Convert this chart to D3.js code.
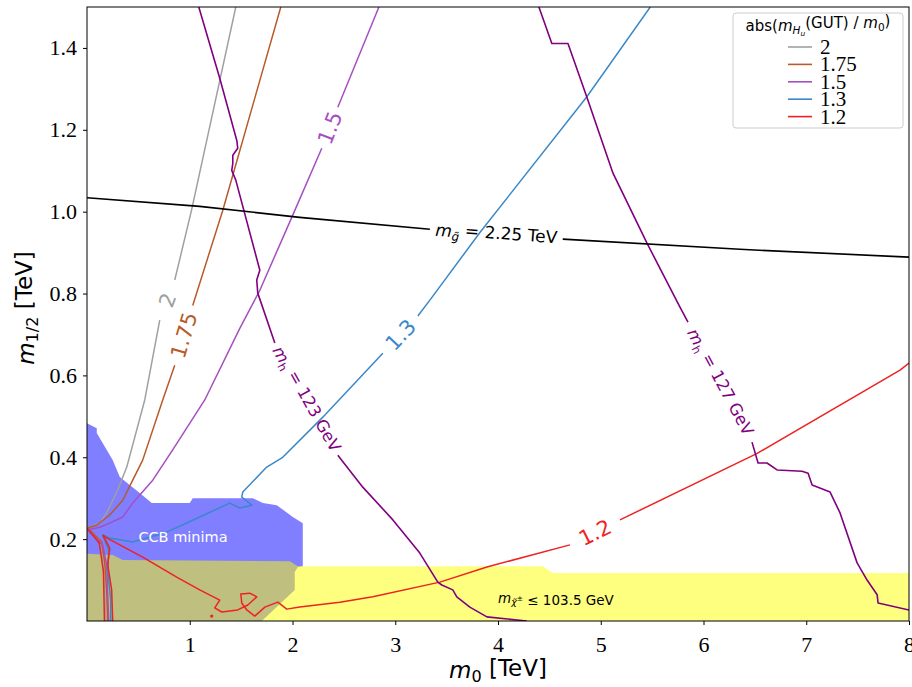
<!DOCTYPE html>
<html>
<head>
<meta charset="utf-8">
<script src="https://cdn.jsdelivr.net/npm/d3@7"></script>
<style>
body { margin: 0; background: #fff; }
</style>
</head>
<body>
<div id="chart"></div>
<script>
// ---- data (TeV) ----
var xTicks = [1, 2, 3, 4, 5, 6, 7, 8];
var yTicks = [0.2, 0.4, 0.6, 0.8, 1.0, 1.2, 1.4];

// abs(mHu(GUT)/m0) contours: upper branch before label, after label, low branch
var gray2A = [[1.448, 1.50], [1.017, 1.003], [0.854, 0.833]];
var gray2B = [[0.708, 0.735], [0.562, 0.540], [0.387, 0.376], [0.299, 0.320], [0.192, 0.264], [0.124, 0.239], [0.026, 0.229], [0.0, 0.228]];
var gray2Low = [[0.007, 0.225], [0.124, 0.198], [0.153, 0.149], [0.172, 0.076], [0.182, 0.0]];

var brown175A = [[1.886, 1.50], [1.321, 1.003], [1.029, 0.771]];
var brown175B = [[0.854, 0.625], [0.737, 0.540], [0.542, 0.393], [0.445, 0.344], [0.348, 0.295], [0.221, 0.259], [0.094, 0.234], [0.0, 0.227]];
var brown175Low = [[0.007, 0.227], [0.143, 0.193], [0.172, 0.144], [0.192, 0.071], [0.202, 0.0]];

var purple15A = [[2.841, 1.50], [2.441, 1.255]];
var purple15B = [[2.285, 1.155], [1.993, 0.986], [1.682, 0.808], [1.487, 0.715], [1.146, 0.540], [0.834, 0.418], [0.640, 0.344], [0.445, 0.288], [0.348, 0.254], [0.221, 0.239], [0.124, 0.229], [0.0, 0.222]];
var purple15Low = [[0.007, 0.222], [0.153, 0.186], [0.192, 0.137], [0.202, 0.063], [0.211, 0.0]];

var blue13A = [[5.482, 1.50], [4.863, 1.280], [3.824, 0.949], [3.337, 0.784], [3.220, 0.745]];
var blue13B = [[2.879, 0.654], [2.295, 0.498], [1.905, 0.400], [1.749, 0.376], [1.516, 0.315], [1.506, 0.303], [1.604, 0.283], [1.487, 0.276], [1.389, 0.288], [1.097, 0.254], [0.776, 0.217], [0.445, 0.193], [0.221, 0.203], [0.153, 0.210], [0.172, 0.198]];
var blue13Low = [[0.172, 0.198], [0.211, 0.173], [0.202, 0.125], [0.231, 0.051], [0.231, 0.0]];

var red12A = [[8.0, 0.630], [7.913, 0.613], [6.518, 0.409], [5.187, 0.247]];
var red12B = [[4.700, 0.186], [3.892, 0.132], [3.434, 0.095], [2.782, 0.059], [2.461, 0.046], [2.071, 0.034], [1.944, 0.029], [1.857, 0.046], [1.731, 0.034], [1.633, 0.012], [1.555, 0.027], [1.506, 0.044], [1.497, 0.066], [1.584, 0.068], [1.652, 0.059], [1.565, 0.039], [1.467, 0.027], [1.312, 0.022], [1.243, 0.032], [1.292, 0.051], [1.097, 0.076], [0.873, 0.107], [0.542, 0.156], [0.192, 0.203], [0.153, 0.210]];
var red12Low = [[0.153, 0.210], [0.221, 0.178], [0.202, 0.137], [0.240, 0.076], [0.250, 0.0]];
var red12Left = [[0.007, 0.225], [0.120, 0.190], [0.160, 0.120], [0.170, 0.0]];
var red12Dot = [1.214, 0.012];

// Higgs mass contours
var mh123A = [[1.088, 1.50], [1.292, 1.326], [1.458, 1.174], [1.467, 1.155], [1.419, 1.138], [1.419, 1.118], [1.409, 1.101], [1.448, 1.077], [1.682, 0.857], [1.652, 0.833], [1.662, 0.801], [1.828, 0.679]];
var mh123B = [[2.441, 0.405], [2.684, 0.327], [2.977, 0.247], [3.239, 0.166], [3.414, 0.095], [3.453, 0.088], [3.560, 0.076], [3.599, 0.059], [3.726, 0.034], [3.892, 0.010], [4.28, 0.0]];
var mh127A = [[4.398, 1.50], [4.524, 1.411], [4.681, 1.411], [4.866, 1.279], [5.119, 1.094], [5.450, 0.923], [5.771, 0.767], [5.849, 0.730]];
var mh127B = [[6.472, 0.437], [6.531, 0.386], [6.618, 0.386], [6.716, 0.369], [6.959, 0.366], [7.018, 0.361], [7.057, 0.332], [7.232, 0.315], [7.329, 0.264], [7.495, 0.142], [7.592, 0.100], [7.690, 0.064], [7.699, 0.044], [8.0, 0.027]];

// gluino mass contour
var gluinoA = [[0.0, 1.034], [1.097, 1.013], [2.07, 0.986], [3.337, 0.957]];
var gluinoB = [[4.63, 0.933], [6.355, 0.908], [8.0, 0.889]];

// excluded regions
var ccbRegion = [[0, 0], [0, 0.483], [0.095, 0.471], [0.095, 0.459], [0.251, 0.393], [0.319, 0.352], [0.513, 0.313], [0.630, 0.288], [1.0, 0.288], [1.029, 0.300], [1.613, 0.300], [1.711, 0.288], [1.847, 0.283], [2.003, 0.254], [2.100, 0.239], [2.100, 0.134], [2.052, 0.132], [2.022, 0.120], [2.022, 0.076], [1.701, 0.0]];
var charginoRegion = [[0, 0], [0, 0.164], [0.251, 0.161], [0.348, 0.149], [1.974, 0.146], [2.052, 0.134], [4.437, 0.134], [4.534, 0.117], [8.0, 0.117], [8.0, 0]];

var legendLevels = ["2", "1.75", "1.5", "1.3", "1.2"];
var legendColors = ["#a0a0a0", "#b85a2a", "#a64fc2", "#3a88c8", "#ee2222"];

// ---- layout ----
var svgWidth = 912;
var svgHeight = 687;
var margin = { top: 7, right: 3, bottom: 66, left: 87 };
var width = svgWidth - margin.left - margin.right;
var height = svgHeight - margin.top - margin.bottom;

var svg = d3.select("#chart")
    .append("svg")
    .attr("width", svgWidth)
    .attr("height", svgHeight)
    .style("display", "block");

var chartGroup = svg.append("g")
    .attr("transform", `translate(${margin.left}, ${margin.top})`);

var xScale = d3.scaleLinear().domain([0, 8]).range([0, width]);
var yScale = d3.scaleLinear().domain([0, 1.5]).range([height, 0]);

svg.append("defs").append("clipPath")
    .attr("id", "plotClip")
    .append("rect")
    .attr("width", width)
    .attr("height", height);

var plot = chartGroup.append("g").attr("clip-path", "url(#plotClip)");

var line = d3.line()
    .x(d => xScale(d[0]))
    .y(d => yScale(d[1]));

// regions
plot.append("path")
    .attr("d", line(ccbRegion) + "Z")
    .attr("fill", "rgb(0,0,255)")
    .attr("fill-opacity", 0.5);
plot.append("path")
    .attr("d", line(charginoRegion) + "Z")
    .attr("fill", "rgb(255,255,0)")
    .attr("fill-opacity", 0.5);

// helper: rich text with italic / sub parts
function richText(sel, parts) {
    parts.forEach(function (p) {
        var ts = sel.append("tspan").text(p.t);
        if (p.i) ts.attr("font-style", "italic");
        if (p.s) ts.attr("font-size", p.s);
        if (p.dy) ts.attr("dy", p.dy);
    });
    return sel;
}

// contour lines with labels in gaps
var contours = [
    { color: legendColors[0], parts: [gray2A, gray2B, gray2Low], label: [{ t: "2" }], size: 21, w: 1.5 },
    { color: legendColors[1], parts: [brown175A, brown175B, brown175Low], label: [{ t: "1.75" }], size: 21, w: 1.5 },
    { color: legendColors[2], parts: [purple15A, purple15B, purple15Low], label: [{ t: "1.5" }], size: 21, w: 1.5 },
    { color: legendColors[3], parts: [blue13A, blue13B, blue13Low], label: [{ t: "1.3" }], size: 21, w: 1.5 },
    { color: legendColors[4], parts: [red12A, red12B, red12Low, red12Left], label: [{ t: "1.2" }], size: 21, w: 1.5 },
    { color: "#800080", parts: [mh123A, mh123B], size: 16.5, w: 1.6,
      label: [{ t: "m", i: true }, { t: "h", s: "70%", dy: "0.3em" }, { t: " = 123 GeV", dy: "-0.3em" }] },
    { color: "#800080", parts: [mh127A, mh127B], size: 16.5, w: 1.6,
      label: [{ t: "m", i: true }, { t: "h", s: "70%", dy: "0.3em" }, { t: " = 127 GeV", dy: "-0.3em" }] },
    { color: "#000000", parts: [gluinoA, gluinoB], size: 17, w: 1.6,
      label: [{ t: "m", i: true }, { t: "g\u0303", i: true, s: "70%", dy: "0.3em" }, { t: " = 2.25 TeV", dy: "-0.3em" }] }
];

contours.forEach(function (c) {
    c.parts.forEach(function (p) {
        plot.append("path")
            .attr("d", line(p))
            .attr("fill", "none")
            .attr("stroke", c.color)
            .attr("stroke-width", c.w)
            .attr("stroke-linejoin", "round");
    });
    var a = c.parts[0][c.parts[0].length - 1];
    var b = c.parts[1][0];
    var ax = xScale(a[0]), ay = yScale(a[1]), bx = xScale(b[0]), by = yScale(b[1]);
    if (bx < ax) { var t = ax; ax = bx; bx = t; t = ay; ay = by; by = t; }
    var ang = Math.atan2(by - ay, bx - ax) * 180 / Math.PI;
    var lab = chartGroup.append("text")
        .attr("transform", `translate(${(ax + bx) / 2}, ${(ay + by) / 2}) rotate(${ang})`)
        .attr("text-anchor", "middle")
        .attr("dy", "0.36em")
        .attr("fill", c.color)
        .attr("font-family", "DejaVu Sans")
        .attr("font-size", c.size);
    richText(lab, c.label);
});

plot.append("circle")
    .attr("cx", xScale(red12Dot[0]))
    .attr("cy", yScale(red12Dot[1]))
    .attr("r", 1.6)
    .attr("fill", legendColors[4]);

// region labels
chartGroup.append("text")
    .attr("x", xScale(0.5))
    .attr("y", yScale(0.193))
    .attr("fill", "#ffffff")
    .attr("font-family", "DejaVu Sans")
    .attr("font-size", 14.5)
    .text("CCB minima");

richText(chartGroup.append("text")
    .attr("x", xScale(4.0))
    .attr("y", yScale(0.045))
    .attr("fill", "#000")
    .attr("font-family", "DejaVu Sans")
    .attr("font-size", 13.5),
    [{ t: "m", i: true }, { t: "\u03c7\u0303", i: true, s: "70%", dy: "0.3em" }, { t: "\u00b1", s: "55%", dy: "-0.6em" },
     { t: " \u2264 103.5 GeV", dy: "0.3em" }]);

// axes
var xAxis = chartGroup.append("g")
    .attr("transform", `translate(0, ${height})`)
    .call(d3.axisBottom(xScale).tickValues(xTicks).tickFormat(d3.format("d")).tickSize(4).tickPadding(11));
var yAxis = chartGroup.append("g")
    .call(d3.axisLeft(yScale).tickValues(yTicks).tickFormat(d3.format(".1f")).tickSize(4).tickPadding(6));

[xAxis, yAxis].forEach(function (ax) {
    ax.select(".domain").remove();
    ax.selectAll("text")
        .attr("font-family", "Liberation Serif")
        .attr("font-size", 22)
        .attr("fill", "#000");
    ax.selectAll("line").attr("stroke", "#000");
});

chartGroup.append("rect")
    .attr("width", width)
    .attr("height", height)
    .attr("fill", "none")
    .attr("stroke", "#000")
    .attr("stroke-width", 1);

// axis titles
richText(svg.append("text")
    .attr("x", margin.left + width / 2)
    .attr("y", 678)
    .attr("text-anchor", "middle")
    .attr("font-family", "DejaVu Sans")
    .attr("font-size", 23),
    [{ t: "m", i: true }, { t: "0", s: "70%", dy: "0.25em" }, { t: " [TeV]", dy: "-0.25em" }]);

richText(svg.append("text")
    .attr("transform", "translate(34, 308) rotate(-90)")
    .attr("text-anchor", "middle")
    .attr("font-family", "DejaVu Sans")
    .attr("font-size", 23),
    [{ t: "m", i: true }, { t: "1/2", s: "70%", dy: "0.25em" }, { t: " [TeV]", dy: "-0.25em" }]);

// legend
var legend = svg.append("g");
legend.append("rect")
    .attr("x", 733).attr("y", 13)
    .attr("width", 170).attr("height", 115)
    .attr("rx", 3)
    .attr("fill", "#fff")
    .attr("fill-opacity", 0.8)
    .attr("stroke", "#cccccc");

richText(legend.append("text")
    .attr("x", 818).attr("y", 31)
    .attr("text-anchor", "middle")
    .attr("font-family", "DejaVu Sans")
    .attr("font-size", 15),
    [{ t: "abs(" }, { t: "m", i: true }, { t: "H", i: true, s: "70%", dy: "0.3em" }, { t: "u", i: true, s: "50%", dy: "0.25em" },
     { t: "(GUT) / ", dy: "-0.55em" }, { t: "m", i: true }, { t: "0", s: "70%", dy: "0.3em" }, { t: ")", dy: "-0.3em" }]);

legendLevels.forEach(function (lv, i) {
    var yy = 47 + i * 17.4;
    legend.append("line")
        .attr("x1", 788).attr("x2", 812)
        .attr("y1", yy).attr("y2", yy)
        .attr("stroke", legendColors[i])
        .attr("stroke-width", 1.6);
    legend.append("text")
        .attr("x", 820).attr("y", yy + 7)
        .attr("font-family", "Liberation Serif")
        .attr("font-size", 21)
        .text(lv);
});
</script>
</body>
</html>
